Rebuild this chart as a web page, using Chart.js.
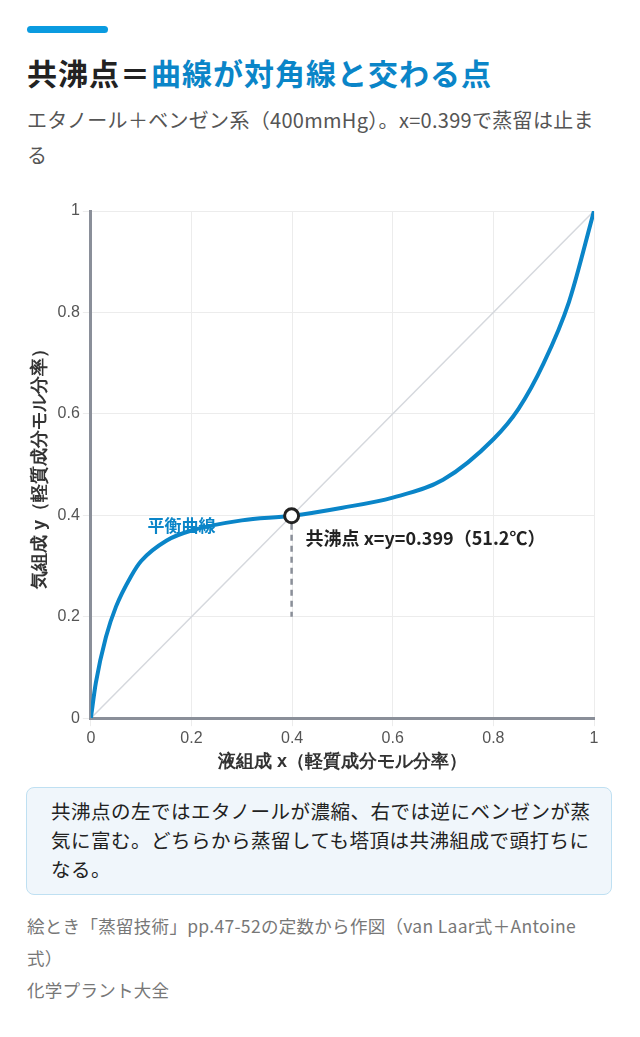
<!DOCTYPE html>
<html><head><meta charset="utf-8">
<script src="https://cdn.jsdelivr.net/npm/chart.js@4/dist/chart.umd.min.js"></script>
<style>
body{margin:0;width:640px;height:1037px;background:#fff;font-family:"Noto Sans CJK JP","Noto Sans",sans-serif;position:relative;overflow:hidden}
.bar{position:absolute;left:27px;top:26px;width:81px;height:7px;border-radius:4px;background:#0a9be0}
h1{position:absolute;left:27px;top:50px;margin:0;font-size:30px;font-weight:700;color:#222;letter-spacing:1px}
h1 span{color:#0a85c8}
.sub{position:absolute;left:27px;top:102px;width:575px;font-size:20px;line-height:35px;color:#555;letter-spacing:0.3px}
#wrap{position:absolute;left:0;top:195px;width:640px;height:590px}
.note{position:absolute;left:26px;top:787px;width:540px;height:86px;padding:8px 20px 12px 24px;background:#f0f6fb;border:1.5px solid #bfe0f2;border-radius:8px;font-size:19.5px;line-height:29px;color:#222;letter-spacing:0.5px}
.foot{position:absolute;left:27px;top:910px;width:570px;font-size:17.5px;line-height:32px;color:#777;letter-spacing:0.3px}
</style></head><body>
<div class="bar"></div>
<h1>共沸点＝<span>曲線が対角線と交わる点</span></h1>
<div class="sub">エタノール＋ベンゼン系（400mmHg）。x=0.399で蒸留は止まる</div>
<div id="wrap"><canvas id="c"></canvas></div>
<div class="note">共沸点の左ではエタノールが濃縮、右では逆にベンゼンが蒸気に富む。どちらから蒸留しても塔頂は共沸組成で頭打ちになる。</div>
<div class="foot">絵とき「蒸留技術」pp.47-52の定数から作図（van Laar式＋Antoine式）<br>化学プラント大全</div>
<script>
const xLiquid=[0,0.01,0.03,0.05,0.08,0.1,0.15,0.2,0.3,0.399,0.5,0.6,0.7,0.8,0.85,0.9,0.95,1];
const yVapor=[0,0.07,0.16,0.22,0.28,0.31,0.35,0.37,0.39,0.399,0.415,0.435,0.47,0.55,0.61,0.70,0.82,1];
const azeo={x:0.399,y:0.399,label:"共沸点 x=y=0.399（51.2℃）"};
const curveLabel="平衡曲線";
const ticks=[0,0.2,0.4,0.6,0.8,1];
const blue="#0a85c8";
const overlay={id:"ov",afterDatasetsDraw(ch){
 const c=ch.ctx,xs=ch.scales.x,ys=ch.scales.y;
 const px=xs.getPixelForValue(azeo.x),py=ys.getPixelForValue(azeo.y);
 c.save();
 c.setLineDash([6,5]);c.strokeStyle="#8a8f99";c.lineWidth=2.5;
 c.beginPath();c.moveTo(px,py+8);c.lineTo(px,ys.getPixelForValue(0.2));c.stroke();
 c.setLineDash([]);
 c.beginPath();c.arc(px,py,7,0,Math.PI*2);c.fillStyle="#fff";c.fill();c.lineWidth=3;c.strokeStyle="#222";c.stroke();
 c.font="bold 18px 'Noto Sans CJK JP'";c.fillStyle="#222";c.textBaseline="middle";
 c.fillText(azeo.label,px+14,py+22);
 c.font="bold 17px 'Noto Sans CJK JP'";c.fillStyle=blue;c.textAlign="center";
 c.fillText(curveLabel,xs.getPixelForValue(0.18),ys.getPixelForValue(0.38));
 c.restore();}};
new Chart(document.getElementById("c"),{type:"scatter",
data:{datasets:[
 {data:xLiquid.map((x,i)=>({x,y:yVapor[i]})),showLine:true,borderColor:blue,borderWidth:4,pointRadius:0,cubicInterpolationMode:"monotone"},
 {data:[{x:0,y:0},{x:1,y:1}],showLine:true,borderColor:"#d5d8dd",borderWidth:1.5,pointRadius:0}
]},
options:{responsive:true,maintainAspectRatio:false,animation:false,
 layout:{padding:{left:25,right:46,top:16,bottom:8}},
 plugins:{legend:{display:false},tooltip:{enabled:false}},
 scales:{
  x:{min:0,max:1,afterBuildTicks:a=>{a.ticks=ticks.map(v=>({value:v}))},
   ticks:{color:"#555",font:{size:16},callback:v=>String(v)},
   grid:{color:"#ececec"},border:{color:"#8a8f99",width:3},
   title:{display:true,text:"液組成 x（軽質成分モル分率）",color:"#333",font:{size:18,weight:"bold"},padding:{top:0}}},
  y:{min:0,max:1,afterBuildTicks:a=>{a.ticks=ticks.map(v=>({value:v}))},
   ticks:{color:"#555",font:{size:16},callback:v=>String(v)},
   grid:{color:"#ececec"},border:{color:"#8a8f99",width:3},
   title:{display:true,text:"気組成 y（軽質成分モル分率）",color:"#333",font:{size:18,weight:"bold"},padding:{bottom:4}}}
 }},
plugins:[overlay]});
</script></body></html>
